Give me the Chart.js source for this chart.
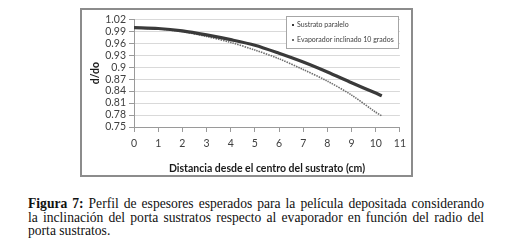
<!DOCTYPE html>
<html>
<head>
<meta charset="utf-8">
<script src="https://cdn.jsdelivr.net/npm/chart.js@4.4.1/dist/chart.umd.min.js"></script>
<style>
    body { margin: 0; background: #fff; width: 505px; height: 247px; position: relative; overflow: hidden; }
    #box { position: absolute; left: 80px; top: 8px; width: 333px; height: 169px; border: 2px solid #8c8c8c; box-sizing: border-box; }
    #caption { position: absolute; left: 28px; top: 197px; width: 456px; font: 13.6px "Liberation Serif", serif; line-height: 13.6px; color: #111; }
    #caption div { text-align: justify; text-align-last: justify; white-space: nowrap; }
    #caption div.last { text-align-last: left; }
</style>
</head>
<body>
<div id="box"><canvas id="perfilChart" width="329" height="165"></canvas></div>
<div id="caption">
    <div><b>Figura 7:</b> Perfil de espesores esperados para la película depositada considerando</div>
    <div>la inclinación del porta sustratos respecto al evaporador en función del radio del</div>
    <div class="last">porta sustratos.</div>
</div>
<script>
// radio del porta sustratos (cm)
const distancias = [0, 1, 2, 3, 4, 5, 6, 7, 8, 9, 10, 10.25];
const sustratoParalelo = [0.999, 0.997, 0.991, 0.981, 0.969, 0.955, 0.935, 0.913, 0.888, 0.861, 0.835, 0.828];
const evaporadorInclinado = [0.998, 0.996, 0.989, 0.977, 0.962, 0.943, 0.921, 0.894, 0.865, 0.830, 0.787, 0.778];
const yTicks = [0.75, 0.78, 0.81, 0.84, 0.87, 0.9, 0.93, 0.96, 0.99, 1.02];
const yTickLabels = ['0.75', '0.78', '0.81', '0.84', '0.87', '0.9', '0.93', '0.96', '0.99', '1.02'];

const font = { family: 'Lato', size: 10.5 };

// leyenda dentro del area del grafico, como en Excel
const legendInside = {
    id: 'legendInside',
    afterDraw(chart) {
        const ctx = chart.ctx;
        const x = 204, y = 6, w = 112, h = 32;
        ctx.save();
        ctx.fillStyle = '#fff';
        ctx.fillRect(x, y, w, h);
        ctx.strokeStyle = '#a6a6a6';
        ctx.lineWidth = 1;
        ctx.strokeRect(x + 0.5, y + 0.5, w, h);
        ctx.font = '7px Lato';
        ctx.textBaseline = 'middle';
        chart.data.datasets.forEach((ds, i) => {
            const ly = y + 9 + i * 15;
            ctx.fillStyle = ds.borderColor;
            ctx.fillRect(x + 6, ly - 1, 2, 2);
            ctx.fillStyle = '#404040';
            ctx.fillText(ds.label, x + 11, ly);
        });
        ctx.restore();
    }
};

const ctx = document.getElementById('perfilChart').getContext('2d');
new Chart(ctx, {
    type: 'line',
    data: {
        datasets: [{
            label: 'Sustrato paralelo',
            data: distancias.map((d, i) => ({ x: d, y: sustratoParalelo[i] })),
            borderColor: '#3a3a3a',
            borderWidth: 3.2,
            pointRadius: 0,
            tension: 0.3
        }, {
            label: 'Evaporador inclinado 10 grados',
            data: distancias.map((d, i) => ({ x: d, y: evaporadorInclinado[i] })),
            borderColor: '#6e6e6e',
            borderWidth: 1.6,
            borderDash: [1.5, 1],
            pointRadius: 0,
            tension: 0.3
        }]
    },
    options: {
        responsive: false,
        animation: false,
        layout: { padding: { top: 7, right: 11, bottom: 0, left: 0 } },
        scales: {
            x: {
                type: 'linear',
                min: 0,
                max: 11,
                ticks: { stepSize: 1, color: '#404040', font, padding: 5, maxRotation: 0 },
                grid: { drawOnChartArea: false, tickLength: 5, color: '#9a9a9a' },
                border: { color: '#9a9a9a' },
                title: { display: true, text: 'Distancia desde el centro del sustrato (cm)', color: '#1a1a1a', font: { family: 'Lato', size: 10.5, weight: 'bold' }, padding: { top: 2, bottom: 0 } },
                afterFit: s => { s.height = 48; }
            },
            y: {
                min: 0.75,
                max: 1.02,
                afterBuildTicks: s => { s.ticks = yTicks.map(v => ({ value: v })); },
                ticks: { autoSkip: false, color: '#404040', font, padding: 3, callback: (v, i) => yTickLabels[i] },
                grid: { color: '#d9d9d9', tickLength: 5, tickColor: '#9a9a9a' },
                border: { color: '#9a9a9a' },
                title: { display: true, text: 'd/do', color: '#1a1a1a', font: { family: 'Lato', size: 10.5, weight: 'bold' }, padding: { top: 7, bottom: 0 } },
                afterFit: s => { s.width = 52; }
            }
        },
        plugins: {
            legend: { display: false },
            tooltip: { enabled: false }
        }
    },
    plugins: [legendInside]
});
</script>
</body>
</html>
